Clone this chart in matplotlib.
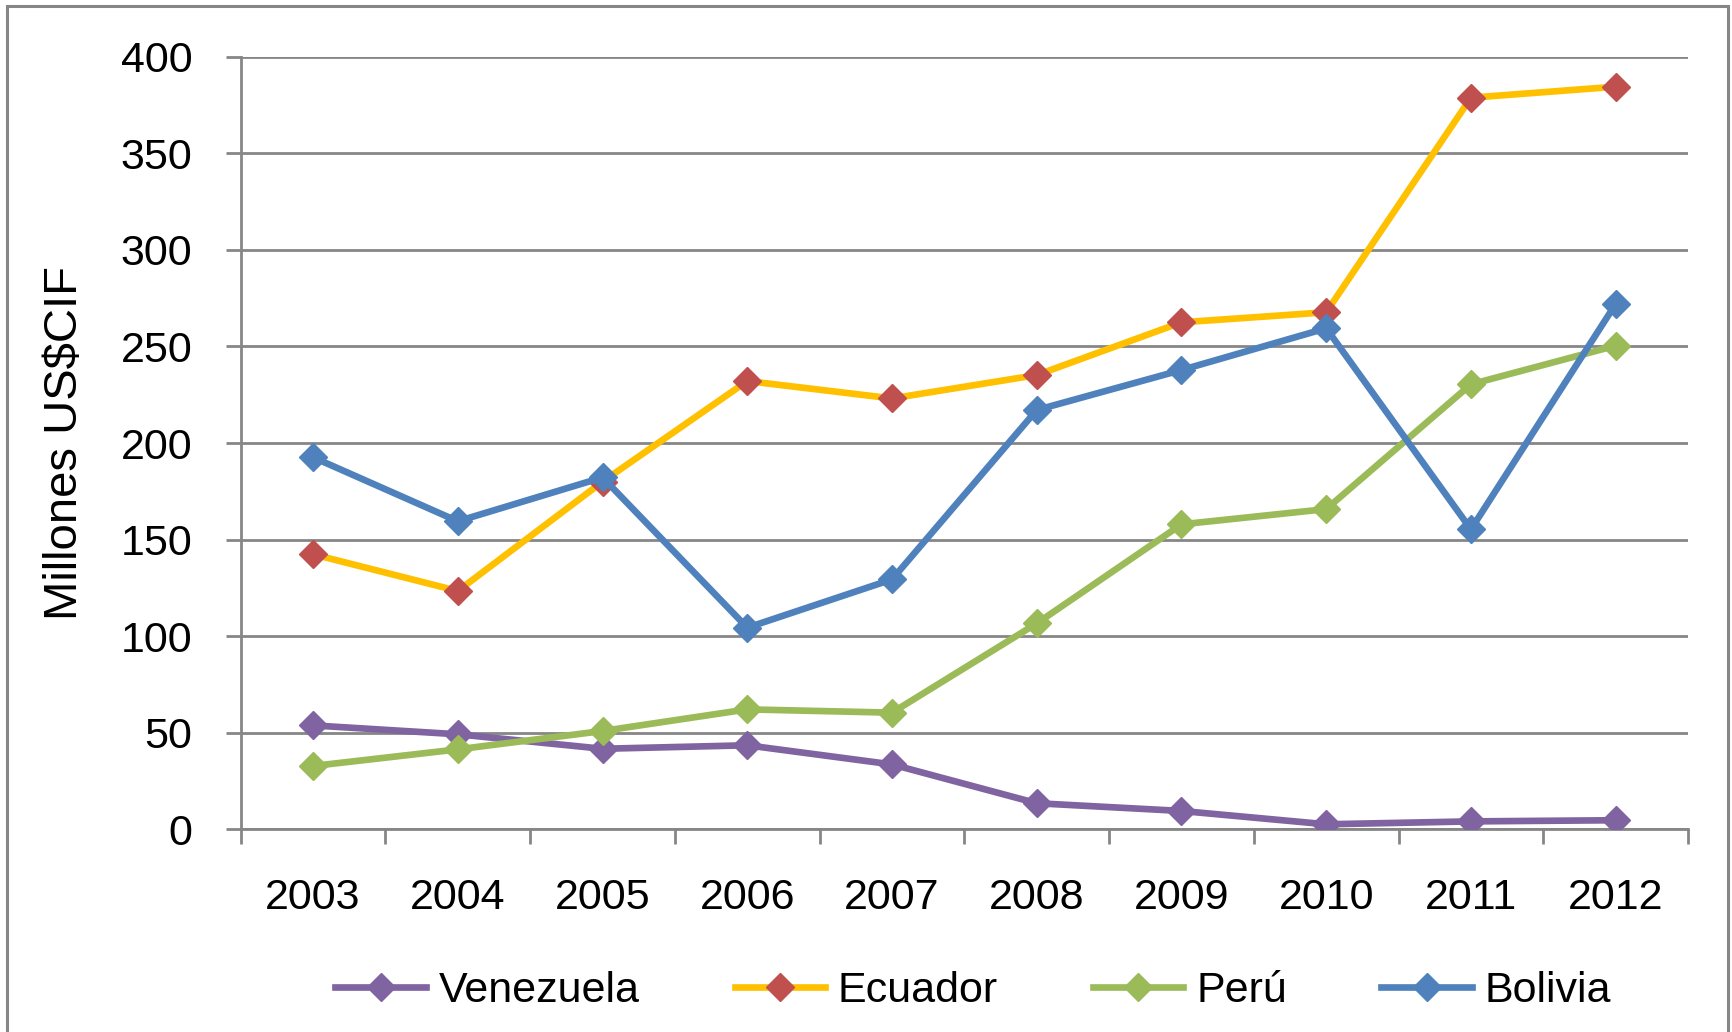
import matplotlib
matplotlib.use("Agg")
import matplotlib.pyplot as plt
from matplotlib.patches import Rectangle
import numpy as np

years = ["2003", "2004", "2005", "2006", "2007", "2008", "2009", "2010", "2011", "2012"]
venezuela = [53.8, 49.2, 41.7, 43.5, 33.6, 13.5, 9.5, 2.6, 4.1, 4.7]
ecuador = [142.4, 123.4, 180.0, 232.1, 223.1, 235.2, 262.5, 267.7, 378.8, 384.5]
peru = [32.8, 41.4, 50.9, 62.1, 60.4, 106.6, 157.9, 165.8, 230.4, 250.4]
bolivia = [192.6, 159.5, 182.2, 104.4, 129.4, 217.1, 237.8, 259.4, 155.3, 272.0]

series = [
    ("Venezuela", venezuela, "#8064A2", "#8064A2"),
    ("Ecuador", ecuador, "#FFC000", "#C0504D"),
    ("Perú", peru, "#9BBB59", "#9BBB59"),
    ("Bolivia", bolivia, "#4F81BD", "#4F81BD"),
]

plt.rcParams['font.family'] = ['Liberation Sans', 'DejaVu Sans']
FS = 31
GRID = "#868686"

fig = plt.figure(figsize=(17.32, 10.32), dpi=100)
ax = fig.add_axes([0.139, 0.1964, 0.9746 - 0.139, 0.945 - 0.1964])

x = np.arange(len(years))
handles = []
for name, vals, lc, mc in series:
    h, = ax.plot(x, vals, color=lc, lw=4.8, marker="D", markersize=14.5,
                 markerfacecolor=mc, markeredgecolor=mc, label=name,
                 solid_joinstyle="round", zorder=3)
    handles.append(h)

ax.set_xlim(-0.5, len(years) - 0.5)
ax.set_ylim(0, 400)
ax.set_yticks(np.arange(0, 401, 50))
ax.set_xticks(x)
ax.set_xticklabels(years, fontsize=FS)
ax.set_xticks(np.arange(-0.5, len(years), 1), minor=True)
ax.tick_params(axis="x", which="major", length=0, pad=35)
ax.tick_params(axis="x", which="minor", length=10.5, width=2, color=GRID, direction="out")
ax.tick_params(axis="y", which="major", length=11, width=2, color=GRID, direction="out",
               labelsize=FS, pad=24)
ax.yaxis.grid(True, color=GRID, lw=2.0, zorder=0)
ax.set_axisbelow(True)
for s in ["top", "right"]:
    ax.spines[s].set_visible(False)
for s in ["left", "bottom"]:
    ax.spines[s].set_color(GRID)
    ax.spines[s].set_linewidth(2.0)

ax.set_ylabel("Millones US\\$CIF", fontsize=34, labelpad=24)

fig.legend(handles=handles, loc="center", bbox_to_anchor=(0.562, 0.040), ncol=4,
           frameon=False, fontsize=FS, handlelength=2.1, handletextpad=0.3,
           columnspacing=2.2)

frame = Rectangle((0.0038, -0.02), 0.994, 1.0142, transform=fig.transFigure,
                  fill=False, edgecolor=GRID, lw=2.2)
fig.patches.append(frame)

fig.savefig("out.png", dpi=100, facecolor="white")
